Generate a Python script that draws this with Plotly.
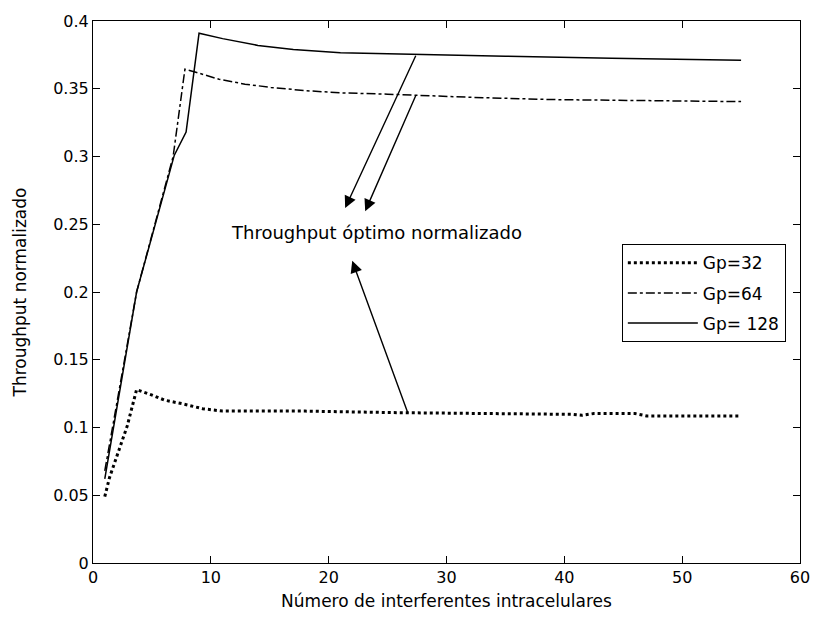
import plotly.graph_objects as go

# Gp = 32 (dotted)
x32 = [1, 1.4, 2.9, 3.7, 4.9, 6.1, 7.6, 9.3, 11, 18, 25.4, 40.7, 41.5, 42.5, 46, 47, 55]
y32 = [0.049, 0.063, 0.101, 0.128, 0.1243, 0.1201, 0.1175, 0.1139, 0.1121, 0.1121, 0.111,
       0.1097, 0.109, 0.1103, 0.1103, 0.1085, 0.1085]

# Gp = 64 (dash-dot)
x64 = [1, 3.7, 6.8, 7.8, 8.8, 10.7, 12.9, 15.1, 18, 21, 25, 32, 39, 55]
y64 = [0.068, 0.2, 0.300, 0.3644, 0.362, 0.357, 0.3534, 0.351, 0.3486, 0.347, 0.346,
       0.3437, 0.342, 0.3405]

# Gp = 128 (solid)
x128 = [1, 3.7, 6.9, 7.9, 9.0, 11, 14, 17, 21, 28, 35, 44, 55]
y128 = [0.062, 0.2, 0.301, 0.318, 0.391, 0.387, 0.382, 0.379, 0.3765, 0.3755, 0.374,
        0.3725, 0.371]

names = ["Gp=32", "Gp=64", "Gp= 128"]

xticks = [0, 10, 20, 30, 40, 50, 60]
yticks = [0, 0.05, 0.1, 0.15, 0.2, 0.25, 0.3, 0.35, 0.4]
ytick_text = ["0", "0.05", "0.1", "0.15", "0.2", "0.25", "0.3", "0.35", "0.4"]

FONT = "DejaVu Sans"

fig = go.Figure()
fig.add_trace(go.Scatter(x=x32, y=y32, mode="lines", name=names[0], legendgroup="a",
                         line=dict(color="black", width=3, dash="dot")))
fig.add_trace(go.Scatter(x=x64, y=y64, mode="lines", name=names[1], legendgroup="b",
                         line=dict(color="black", width=1.5, dash="dashdot")))
fig.add_trace(go.Scatter(x=x128, y=y128, mode="lines", name=names[2], legendgroup="c",
                         line=dict(color="black", width=1.5)))

# arrows and label
arrows = [
    (27.45, 0.3754, 21.4, 0.262),
    (27.45, 0.3461, 23.1, 0.2596),
    (26.76, 0.1097, 22.0, 0.223),
]
for tx, ty, hx, hy in arrows:
    fig.add_annotation(x=hx, y=hy, ax=tx, ay=ty, xref="x", yref="y", axref="x", ayref="y",
                       text="", showarrow=True, arrowhead=2, arrowsize=1.7, arrowwidth=1.4,
                       arrowcolor="black")
fig.add_annotation(x=24.1, y=0.2437, xref="x", yref="y", text="Throughput óptimo normalizado",
                   showarrow=False, font=dict(family=FONT, size=18, color="black"))

axis_common = dict(showline=True, linecolor="black", linewidth=1, mirror="allticks",
                   ticks="inside", ticklen=7, tickcolor="black", showgrid=False,
                   zeroline=False, tickfont=dict(family=FONT, size=16, color="black"))

fig.update_xaxes(range=[0, 60], tickvals=xticks, ticktext=[str(v) for v in xticks],
                 title=dict(text="Número de interferentes intracelulares",
                            font=dict(family=FONT, size=17, color="black"), standoff=8),
                 **axis_common)
fig.update_yaxes(range=[0, 0.4], tickvals=yticks, ticktext=ytick_text,
                 title=dict(text="Throughput normalizado",
                            font=dict(family=FONT, size=17, color="black"), standoff=22),
                 **axis_common)

fig.update_layout(
    width=822, height=619,
    margin=dict(l=93, r=15, t=18, b=54),
    paper_bgcolor="white", plot_bgcolor="white",
    showlegend=True,
    legend=dict(x=0.748, y=0.588, xanchor="left", yanchor="top",
                bgcolor="white", bordercolor="black", borderwidth=1,
                font=dict(family=FONT, size=17, color="black"),
                itemwidth=70, tracegroupgap=5, entrywidth=175),
)

fig.write_html("out.html")
